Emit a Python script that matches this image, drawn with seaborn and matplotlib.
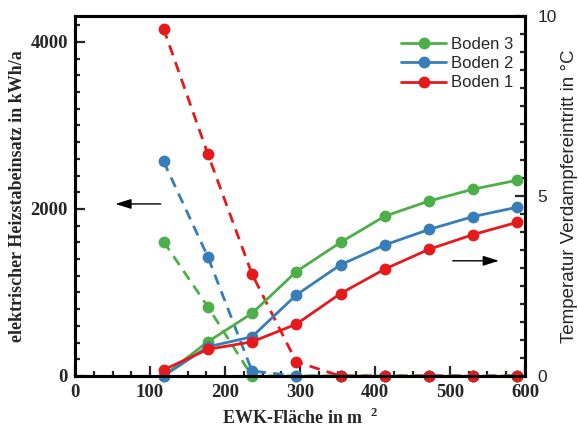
import numpy as np
import pandas as pd
import matplotlib
matplotlib.use("Agg")
import matplotlib.pyplot as plt
import seaborn as sns
from matplotlib.ticker import MultipleLocator

# EWK area in m^2
flaeche = [118, 177, 236, 295, 354, 413, 472, 531, 590]

# electric heater energy in kWh/a (left axis, dashed)
heizstab_boden1 = [4160, 2660, 1220, 170, 0, 0, 0, 0, 0]
heizstab_boden2 = [2570, 1430, 60, 0, 0, 0, 0, 0, 0]
heizstab_boden3 = [1610, 830, 0, 0, 0, 0, 0, 0, 0]

# evaporator inlet temperature in °C (right axis, solid)
temp_boden1 = [0.17, 0.74, 0.95, 1.44, 2.29, 2.97, 3.52, 3.93, 4.27]
temp_boden2 = [0.0, 0.81, 1.09, 2.25, 3.09, 3.64, 4.07, 4.43, 4.69]
temp_boden3 = [0.0, 0.95, 1.74, 2.90, 3.71, 4.44, 4.86, 5.19, 5.44]

labels = ["Boden 3", "Boden 2", "Boden 1"]
colors = {"Boden 1": "#e41a1c", "Boden 2": "#377eb8", "Boden 3": "#4daf4a"}

heiz = pd.DataFrame({
    "Fläche": flaeche * 3,
    "Wert": heizstab_boden3 + heizstab_boden2 + heizstab_boden1,
    "Boden": sum([[b] * len(flaeche) for b in labels], []),
})
temp = pd.DataFrame({
    "Fläche": flaeche * 3,
    "Wert": temp_boden3 + temp_boden2 + temp_boden1,
    "Boden": sum([[b] * len(flaeche) for b in labels], []),
})

sns.set_theme(style="white")
plt.rcParams["font.family"] = ["Liberation Serif", "DejaVu Serif"]
plt.rcParams["mathtext.fontset"] = "custom"
plt.rcParams["mathtext.rm"] = "Liberation Serif:bold"

SANS = ["Liberation Sans", "DejaVu Sans"]

fig = plt.figure(figsize=(5.78, 4.28), dpi=100)
ax = fig.add_axes([0.1298, 0.1215, 0.7785, 0.8411])
ax2 = ax.twinx()

for b in labels:
    d = heiz[heiz["Boden"] == b]
    sns.lineplot(data=d, x="Fläche", y="Wert", ax=ax, color=colors[b],
                 marker="o", markersize=8.5, markeredgewidth=0,
                 linewidth=2.0, linestyle=(0, (3.8, 2.6)), clip_on=False,
                 legend=False, errorbar=None)
for b in labels:
    d = temp[temp["Boden"] == b]
    sns.lineplot(data=d, x="Fläche", y="Wert", ax=ax2, color=colors[b],
                 marker="o", markersize=8.5, markeredgewidth=0,
                 linewidth=2.0, clip_on=False, label=b, errorbar=None)

ax.set_xlim(0, 600)
ax.set_ylim(0, 4310)
ax2.set_ylim(0, 10)

ax.xaxis.set_major_locator(MultipleLocator(100))
ax.xaxis.set_minor_locator(MultipleLocator(25))
ax.yaxis.set_major_locator(MultipleLocator(2000))
ax.yaxis.set_minor_locator(MultipleLocator(200))
ax2.yaxis.set_major_locator(MultipleLocator(5))
ax2.yaxis.set_minor_locator(MultipleLocator(0.5))

for a in (ax, ax2):
    for s in a.spines.values():
        s.set_visible(True)
        s.set_color("black")
        s.set_linewidth(2.2)

ax.tick_params(axis="both", which="major", direction="in", length=7,
               width=1.6, labelsize=13.5, top=False, right=False,
               bottom=True, left=True)
ax.tick_params(axis="x", which="major", pad=6)
ax.tick_params(axis="y", which="major", pad=5)
ax.tick_params(axis="both", which="minor", direction="in", length=3.6,
               width=1.6, top=False, right=False, bottom=True, left=True)
ax2.tick_params(axis="y", which="major", direction="in", length=7,
                width=1.6, labelsize=12.5, pad=9, right=True)
ax2.tick_params(axis="y", which="minor", direction="in", length=3.6,
                width=1.6, right=True)

for lab in ax.get_xticklabels() + ax.get_yticklabels():
    lab.set_fontweight("bold")
for lab in ax2.get_yticklabels():
    lab.set_fontfamily(SANS)

ax.set_xlabel("EWK-Fläche in m $^{\\ 2}$", fontsize=13, fontweight="bold",
              labelpad=5)
ax.set_ylabel("elektrischer Heizstabeinsatz in kWh/a", fontsize=13,
              fontweight="bold")
ax.yaxis.set_label_coords(-0.108, 0.5)
ax2.set_ylabel("Temperatur Verdampfereintritt in °C", fontsize=13.5,
               family=SANS)
ax2.yaxis.set_label_coords(1.08, 0.5)

leg = ax2.legend(loc="upper right", frameon=False,
                 prop={"family": SANS, "size": 12},
                 handlelength=2.7, handletextpad=0.3, labelspacing=0.25,
                 borderaxespad=0.0, bbox_to_anchor=(0.99, 0.96))

ax.annotate("", xy=(50, 2060), xytext=(118, 2060),
            arrowprops=dict(arrowstyle="-|>,head_length=0.8,head_width=0.25",
                            color="black", lw=1.0))
ax2.annotate("", xy=(569, 3.2), xytext=(500, 3.2),
             arrowprops=dict(arrowstyle="-|>,head_length=0.8,head_width=0.25",
                             color="black", lw=1.0))

fig.savefig("out.png", dpi=100)
